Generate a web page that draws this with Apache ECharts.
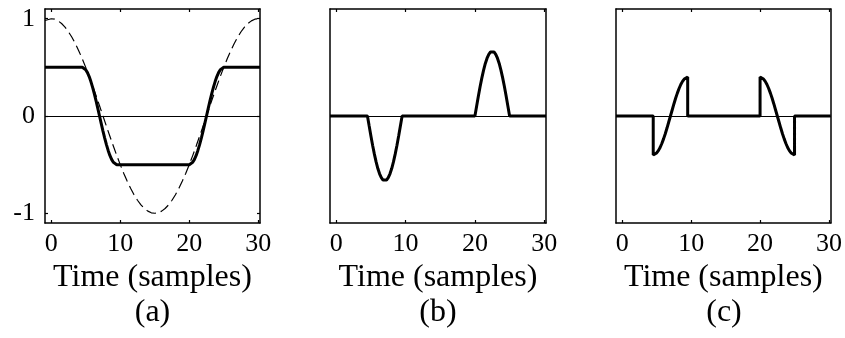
<!DOCTYPE html>
<html><head><meta charset="utf-8">
<script src="https://cdn.jsdelivr.net/npm/echarts@6/dist/echarts.min.js"></script>
<style>html,body{margin:0;padding:0;background:#fff}#c{width:845px;height:338px}</style>
</head><body><div id="c"></div>
<script>
// ---------- data ----------
const xTickValues = [0, 10, 20, 30];
const yTickValuesA = [-1, 0, 1];
const panelLabels = ['(a)', '(b)', '(c)'];
const xAxisTitle = 'Time (samples)';

// dashed cosine of panel (a)
const cosTime = [-0.9, 0, 0.5, 1, 1.5, 2, 2.5, 3, 3.5, 4, 4.5, 5, 5.5, 6, 6.5, 7, 7.5, 8, 8.5, 9, 9.5, 10,
  10.5, 11, 11.5, 12, 12.5, 13, 13.5, 14, 14.5, 15, 15.5, 16, 16.5, 17, 17.5, 18, 18.5, 19, 19.5, 20,
  20.5, 21, 21.5, 22, 22.5, 23, 23.5, 24, 24.5, 25, 25.5, 26, 26.5, 27, 27.5, 28, 28.5, 29, 29.5, 30];
const cosValue = [0.982, 1, 0.995, 0.978, 0.951, 0.914, 0.866, 0.809, 0.743, 0.669, 0.588, 0.5, 0.407, 0.309, 0.208, 0.105, 0, -0.105, -0.208, -0.309, -0.407, -0.5,
  -0.588, -0.669, -0.743, -0.809, -0.866, -0.914, -0.951, -0.978, -0.995, -1, -0.995, -0.978, -0.951, -0.914, -0.866, -0.809, -0.743, -0.669, -0.588, -0.5,
  -0.407, -0.309, -0.208, -0.105, 0, 0.105, 0.208, 0.309, 0.407, 0.5, 0.588, 0.669, 0.743, 0.809, 0.866, 0.914, 0.951, 0.978, 0.995, 1];

// sample times of the two transition regions
const lobe1Time = [4.5, 4.75, 5, 5.25, 5.5, 5.75, 6, 6.25, 6.5, 6.75, 7, 7.25, 7.5, 7.75, 8, 8.25, 8.5, 8.75, 9, 9.25, 9.5];
const lobe2Time = [20, 20.25, 20.5, 20.75, 21, 21.25, 21.5, 21.75, 22, 22.25, 22.5, 22.75, 23, 23.25, 23.5, 23.75, 24, 24.25, 24.5, 24.75, 25];
const startTime = -0.9, endTime = 30.25;

// panel (a) solid curve
const aLevel = 0.5;
const aFall = [0.5, 0.494, 0.476, 0.446, 0.405, 0.354, 0.294, 0.227, 0.155, 0.078, 0, -0.078, -0.155, -0.227, -0.294, -0.354, -0.405, -0.446, -0.476, -0.494, -0.5];
const aRise = [-0.5, -0.494, -0.476, -0.446, -0.405, -0.354, -0.294, -0.227, -0.155, -0.078, 0, 0.078, 0.155, 0.227, 0.294, 0.354, 0.405, 0.446, 0.476, 0.494, 0.5];
// panel (b)
const bDip = [0, -0.104, -0.206, -0.303, -0.392, -0.472, -0.540, -0.594, -0.634, -0.659, -0.667, -0.659, -0.634, -0.594, -0.540, -0.472, -0.392, -0.303, -0.206, -0.104, 0];
const bBump = [0, 0.104, 0.206, 0.303, 0.392, 0.472, 0.540, 0.594, 0.634, 0.659, 0.667, 0.659, 0.634, 0.594, 0.540, 0.472, 0.392, 0.303, 0.206, 0.104, 0];
// panel (c)
const cLobe1 = [-0.4, -0.395, -0.380, -0.356, -0.324, -0.283, -0.235, -0.182, -0.124, -0.062, 0, 0.062, 0.124, 0.182, 0.235, 0.283, 0.324, 0.356, 0.380, 0.395, 0.4];
const cLobe2 = [0.4, 0.395, 0.380, 0.356, 0.324, 0.283, 0.235, 0.182, 0.124, 0.062, 0, -0.062, -0.124, -0.182, -0.235, -0.283, -0.324, -0.356, -0.380, -0.395, -0.4];

// ---------- build series data ----------
const zip = (xs, ys) => xs.map((x, i) => [x, ys[i]]);
const dataCos = zip(cosTime, cosValue);
const dataA = [[startTime, aLevel], ...zip(lobe1Time, aFall), ...zip(lobe2Time, aRise), [endTime, aLevel]];
const dataB = [[startTime, 0], ...zip(lobe1Time, bDip), ...zip(lobe2Time, bBump), [endTime, 0]];
const dataC = [[startTime, 0], [lobe1Time[0], 0], ...zip(lobe1Time, cLobe1), [lobe1Time[lobe1Time.length - 1], 0],
  [lobe2Time[0], 0], ...zip(lobe2Time, cLobe2), [lobe2Time[lobe2Time.length - 1], 0], [endTime, 0]];

// ---------- layout ----------
const FONT = 'Liberation Serif';
const grids = [
  { left: 45, top: 9, width: 215, height: 214 },
  { left: 330, top: 9, width: 216, height: 214 },
  { left: 616, top: 9, width: 216, height: 214 }
];
const X_MIN = -0.9, X_MAX = 30.25, Y_MIN = -1.1, Y_MAX = 1.1;
const lineCol = '#000';

const xAxes = [], yAxes = [], series = [], graphics = [];
grids.forEach((g, i) => {
  const base = { gridIndex: i, type: 'value', min: X_MIN, max: X_MAX,
    axisLine: { show: true, onZero: false, lineStyle: { color: lineCol, width: 1.5 } },
    splitLine: { show: false } };
  xAxes.push(Object.assign({}, base, {
    position: 'bottom',
    axisTick: { show: true, inside: true, length: 3, customValues: xTickValues, lineStyle: { color: lineCol, width: 1.2 } },
    axisLabel: { show: true, customValues: xTickValues, margin: 8, color: '#000', fontFamily: FONT, fontSize: 26 },
    name: xAxisTitle, nameLocation: 'middle', nameGap: 35,
    nameTextStyle: { color: '#000', fontFamily: FONT, fontSize: 32 }
  }));
  xAxes.push(Object.assign({}, base, {
    position: 'top',
    axisTick: { show: true, inside: true, length: 3, customValues: xTickValues, lineStyle: { color: lineCol, width: 1.2 } },
    axisLabel: { show: false }
  }));
  const ybase = { gridIndex: i, type: 'value', min: Y_MIN, max: Y_MAX,
    axisLine: { show: true, onZero: false, lineStyle: { color: lineCol, width: 1.5 } },
    splitLine: { show: false } };
  yAxes.push(Object.assign({}, ybase, {
    position: 'left',
    axisTick: { show: i === 0, inside: true, length: 3, customValues: yTickValuesA, lineStyle: { color: lineCol, width: 1.2 } },
    axisLabel: { show: i === 0, customValues: yTickValuesA, margin: 10, color: '#000', fontFamily: FONT, fontSize: 26 }
  }));
  yAxes.push(Object.assign({}, ybase, {
    position: 'right',
    axisTick: { show: i === 0, inside: true, length: 3, customValues: yTickValuesA, lineStyle: { color: lineCol, width: 1.2 } },
    axisLabel: { show: false }
  }));
  graphics.push({ type: 'text', x: g.left + g.width / 2, y: 313,
    style: { text: panelLabels[i], font: '32px "' + FONT + '"', fill: '#000', textAlign: 'center', textVerticalAlign: 'middle' } });
});

const zeroLine = { silent: true, symbol: ['none', 'none'], label: { show: false },
  lineStyle: { color: '#000', width: 1, type: 'solid' }, data: [{ yAxis: 0 }] };

series.push({ type: 'line', xAxisIndex: 0, yAxisIndex: 0, data: dataCos, showSymbol: false, smooth: false,
  lineStyle: { color: '#000', width: 1.2, type: [10, 5] }, markLine: zeroLine, z: 2 });
series.push({ type: 'line', xAxisIndex: 0, yAxisIndex: 0, data: dataA, showSymbol: false,
  lineStyle: { color: '#000', width: 3 }, z: 3 });
series.push({ type: 'line', xAxisIndex: 2, yAxisIndex: 2, data: dataB, showSymbol: false,
  lineStyle: { color: '#000', width: 3 }, markLine: zeroLine, z: 3 });
series.push({ type: 'line', xAxisIndex: 4, yAxisIndex: 4, data: dataC, showSymbol: false,
  lineStyle: { color: '#000', width: 3 }, markLine: zeroLine, z: 3 });

const chart = echarts.init(document.getElementById('c'), null, { renderer: 'canvas' });
chart.setOption({
  animation: false,
  backgroundColor: '#fff',
  grid: grids,
  xAxis: xAxes,
  yAxis: yAxes,
  series: series,
  graphic: graphics
});
</script></body></html>
